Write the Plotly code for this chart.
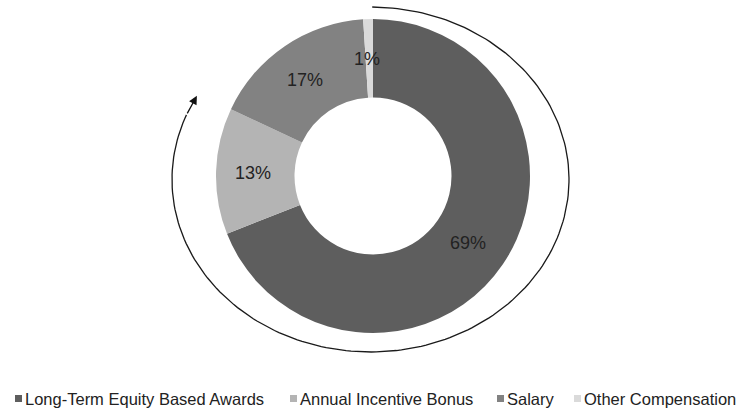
import math
import plotly.graph_objects as go

# ---- data ----
categories = ["Long-Term Equity Based Awards", "Annual Incentive Bonus", "Salary", "Other Compensation"]
values = [69, 13, 17, 1]
colors = ["#5e5e5e", "#b4b4b4", "#828282", "#dadada"]

W, H = 739, 411
# pie geometry in pixels
cx, cy, R = 373, 176, 157
hole = 0.5
FONT = "Arial, Liberation Sans, sans-serif"

fig = go.Figure()

# curved arrow around the donut (decoration, ellipse geometry)
acx, acy, arx, ary = 370.5, 179.5, 198.5, 172.5
t0, t1, tip = 0.5, 292.0, 299.0
n = 200
xs, ys = [], []
for i in range(n + 1):
    t = math.radians(t0 + (t1 - t0) * i / n)
    xs.append(acx + arx * math.sin(t))
    ys.append(acy - ary * math.cos(t))
fig.add_trace(go.Scatter(x=xs, y=ys, mode="lines", line=dict(color="#1a1a1a", width=1.3),
                         showlegend=False, hoverinfo="skip"))
tt = math.radians(tip)
fig.add_annotation(x=acx + arx * math.sin(tt), y=acy - ary * math.cos(tt),
                   ax=xs[-1], ay=ys[-1], xref="x", yref="y", axref="x", ayref="y",
                   text="", showarrow=True, arrowhead=2, arrowsize=1.3, arrowwidth=1.3,
                   arrowcolor="#111111", standoff=0)

fig.add_trace(go.Pie(
    labels=categories, values=values, sort=False, direction="clockwise", rotation=0,
    hole=hole, marker=dict(colors=colors, line=dict(width=0)),
    textinfo="none",
    domain=dict(x=[(cx - R) / W, (cx + R) / W], y=[(H - cy - R) / H, (H - cy + R) / H]),
    hoverinfo="label+percent", showlegend=False,
))

# percentage labels at each slice's mid-angle, mid-ring
total = sum(values)
rm = R * (1 + hole) / 2
cum = 0
for v in values:
    mid = (cum + v / 2) / total * 2 * math.pi
    cum += v
    fig.add_annotation(x=cx + rm * math.sin(mid) - 2, y=cy - rm * math.cos(mid) + 1,
                       xref="x", yref="y", text=f"{round(v / total * 100)}%", showarrow=False,
                       font=dict(family=FONT, size=18, color="#222222"))

# legend (single row, tight Excel-like spacing)
legend_x = [15, 290, 497, 574]
legend_y = 398.5
fig.add_trace(go.Scatter(x=[lx + 3.5 for lx in legend_x], y=[legend_y] * len(legend_x), mode="markers",
                         marker=dict(symbol="square", size=7, color=colors, line=dict(width=0)),
                         showlegend=False, hoverinfo="skip"))
for lx, lab in zip(legend_x, categories):
    fig.add_annotation(x=lx + 8, y=legend_y, xref="x", yref="y", xanchor="left", yanchor="middle",
                       text=lab, showarrow=False,
                       font=dict(family=FONT, size=16.5, color="#222222"))

fig.update_layout(
    width=W, height=H, margin=dict(l=0, r=0, t=0, b=0),
    paper_bgcolor="white", plot_bgcolor="white",
    xaxis=dict(range=[0, W], visible=False, domain=[0, 1], fixedrange=True),
    yaxis=dict(range=[H, 0], visible=False, domain=[0, 1], fixedrange=True),
    showlegend=False,
)

fig.write_html("out.html")
